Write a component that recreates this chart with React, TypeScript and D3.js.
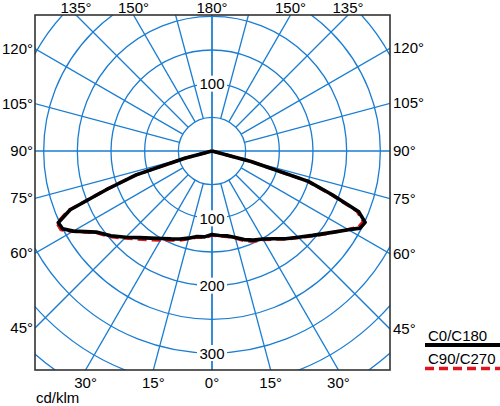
import * as d3 from "d3";

// Photometric data (cd/klm); gamma in degrees from nadir.
const GAMMA = [0, 5, 10, 15, 20, 25, 30, 35, 40, 45, 50, 55, 60, 62.5, 65, 67.5, 70, 72.5, 75, 77.5, 80, 90, 120, 150, 180];
const C0_LEFT = [126, 128, 129, 134, 139, 144, 150, 158, 168, 181, 196, 210, 238, 250, 252, 228, 165, 118, 42, 0, 0, 0, 0, 0, 0];
const C0_RIGHT = [124, 126, 128, 133, 140, 146, 151, 159, 170, 181, 195, 212, 234, 248, 251, 236, 190, 150, 60, 0, 0, 0, 0, 0, 0];
const C90_LEFT = [127, 129, 130, 135, 141, 146, 153, 161, 171, 183, 198, 211, 239, 253, 254, 231, 166, 119, 42, 0, 0, 0, 0, 0, 0];
const C90_RIGHT = [125, 127, 129, 134, 142, 148, 152, 160, 171, 182, 196, 213, 233, 245, 248, 233, 188, 148, 58, 0, 0, 0, 0, 0, 0];

const ANGLE_TICKS = [0, 15, 30, 45, 60, 75, 90, 105, 120, 135, 150, 180];
const GRID_ANGLES = d3.range(0, 181, 15);
const RINGS = d3.range(50, 451, 50);
const TOP_RING_LABELS = [100];
const BOTTOM_RING_LABELS = [100, 200, 300];
const SERIES_NAMES = ["C0/C180", "C90/C270"];

const WIDTH = 500;
const HEIGHT = 406;
const CX = 212;
const CY = 151;
const BOX = { x0: 35, y0: 15, x1: 390, y1: 370 };
const GRID = "#1a7dd2";
const FONT = "Liberation Sans, Arial, sans-serif";

const r = d3.scaleLinear().domain([0, 300]).range([0, 202]);
const rad = (deg: number) => (deg * Math.PI) / 180;

// side: -1 left, +1 right. Returns svg point for (gamma, radius px).
function pt(gamma: number, radius: number, side: number): [number, number] {
  return [CX + side * Math.sin(rad(gamma)) * radius, CY + Math.cos(rad(gamma)) * radius];
}

// Where a radial line hits the frame.
function hitBox(gamma: number, side: number) {
  const dx = side * Math.sin(rad(gamma));
  const dy = Math.cos(rad(gamma));
  const cands: { t: number; edge: string }[] = [];
  if (dx < -1e-9) cands.push({ t: (BOX.x0 - CX) / dx, edge: "left" });
  if (dx > 1e-9) cands.push({ t: (BOX.x1 - CX) / dx, edge: "right" });
  if (dy < -1e-9) cands.push({ t: (BOX.y0 - CY) / dy, edge: "top" });
  if (dy > 1e-9) cands.push({ t: (BOX.y1 - CY) / dy, edge: "bottom" });
  const best = cands.reduce((a, b) => (b.t < a.t ? b : a));
  return { x: CX + dx * best.t, y: CY + dy * best.t, edge: best.edge };
}

// Full outline clockwise from the top: right half gamma 180→0, left half 0→180.
function outline(left: number[], right: number[]) {
  const pts: { a: number; v: number }[] = [];
  for (let i = GAMMA.length - 1; i >= 0; i--) pts.push({ a: rad(180 - GAMMA[i]), v: right[i] });
  for (let i = 1; i < GAMMA.length; i++) pts.push({ a: rad(180 + GAMMA[i]), v: left[i] });
  return d3
    .lineRadial<{ a: number; v: number }>()
    .angle((d) => d.a)
    .radius((d) => r(d.v))(pts) ?? "";
}

function AngleLabels() {
  const items: JSX.Element[] = [];
  ANGLE_TICKS.forEach((g) => {
    const sides = g === 0 || g === 180 ? [1] : [-1, 1];
    sides.forEach((s) => {
      const h = hitBox(g, s);
      let x = h.x;
      let y = h.y;
      let anchor = "middle";
      if (h.edge === "top") y = BOX.y0 - 2.5;
      else if (h.edge === "bottom") y = BOX.y1 + 18;
      else if (h.edge === "left") {
        x = BOX.x0 - 2;
        y = h.y + 5;
        anchor = "end";
      } else {
        x = BOX.x1 + 3;
        y = h.y + 5;
        anchor = "start";
      }
      items.push(
        <text key={`${g}-${s}`} x={x} y={y} textAnchor={anchor}>
          {`${g}°`}
        </text>,
      );
    });
  });
  return <g>{items}</g>;
}

function RingLabel({ value, dir }: { value: number; dir: number }) {
  const y = CY + dir * r(value);
  return (
    <g>
      <rect x={CX - 15} y={y - 8} width={30} height={16} fill="#fff" />
      <text x={CX} y={y + 5.5} textAnchor="middle">
        {value}
      </text>
    </g>
  );
}

export default function App() {
  const inner = r(50);
  return (
    <>
      <style>{`body{margin:0}`}</style>
      <svg width={WIDTH} height={HEIGHT} style={{ display: "block", fontFamily: FONT, fontSize: 15 }}>
        <defs>
          <clipPath id="frame">
            <rect x={BOX.x0} y={BOX.y0} width={BOX.x1 - BOX.x0} height={BOX.y1 - BOX.y0} />
          </clipPath>
        </defs>
        <rect width={WIDTH} height={HEIGHT} fill="#fff" />
        <g clipPath="url(#frame)" stroke={GRID} strokeWidth={1.3} fill="none">
          {RINGS.map((v) => (
            <circle key={v} cx={CX} cy={CY} r={r(v)} />
          ))}
          {GRID_ANGLES.map((g) =>
            [-1, 1].map((s) => {
              const full = g === 0 || g === 90 || g === 180;
              const [x1, y1] = pt(g, full ? 0 : inner, s);
              const [x2, y2] = pt(g, 600, s);
              return <line key={`${g}-${s}`} x1={x1} y1={y1} x2={x2} y2={y2} />;
            }),
          )}
        </g>
        {TOP_RING_LABELS.map((v) => (
          <RingLabel key={`t${v}`} value={v} dir={-1} />
        ))}
        {BOTTOM_RING_LABELS.map((v) => (
          <RingLabel key={`b${v}`} value={v} dir={1} />
        ))}
        <g transform={`translate(${CX},${CY})`} fill="none" strokeLinejoin="round">
          <path d={outline(C90_LEFT, C90_RIGHT)} stroke="#e0141e" strokeWidth={3.2} strokeDasharray="9,5" />
          <path d={outline(C0_LEFT, C0_RIGHT)} stroke="#000" strokeWidth={3.6} />
        </g>
        <rect
          x={BOX.x0}
          y={BOX.y0}
          width={BOX.x1 - BOX.x0}
          height={BOX.y1 - BOX.y0}
          fill="none"
          stroke="#333"
          strokeWidth={1.6}
        />
        <AngleLabels />
        <text x={36} y={403}>
          cd/klm
        </text>
        <g>
          <text x={428} y={341}>
            {SERIES_NAMES[0]}
          </text>
          <line x1={425} x2={500} y1={345} y2={345} stroke="#000" strokeWidth={4} />
          <text x={428} y={364}>
            {SERIES_NAMES[1]}
          </text>
          <line x1={425} x2={500} y1={368.5} y2={368.5} stroke="#e0141e" strokeWidth={3.5} strokeDasharray="9,5" />
        </g>
      </svg>
    </>
  );
}
